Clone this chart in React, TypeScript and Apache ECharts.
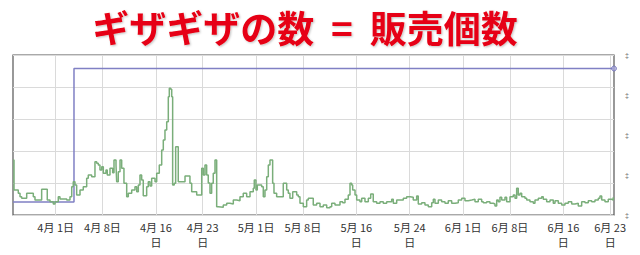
import React, { useEffect, useRef } from "react";
import * as echarts from "echarts";

const titleText = "ギザギザの数  =  販売個数";

const tickDays = [0, 7, 15, 22, 30, 37, 45, 53, 61, 68, 76, 83];
const tickLabels = [
  "4月 1日", "4月 8日", "4月 16\n日", "4月 23\n日", "5月 1日", "5月 8日",
  "5月 16\n日", "5月 24\n日", "6月 1日", "6月 8日", "6月 16\n日", "6月 23\n日",
];

const greenDays = [
  -6.35, -6.24, -5.6, -5.34, -5.09, -4.34, -3.35, -3.1, -2.1, -1.26, -0.85, -0.36, -0.1, 0.39, 0.64,
  1.65, 2.14, 2.4, 2.63, 2.89, 3.14, 3.64, 4.13, 4.64, 4.88, 5.39, 5.88, 6.14, 6.38, 6.63, 6.89, 7.13,
  7.53, 7.72, 8.13, 8.53, 8.73, 9.03, 9.13, 9.37, 9.63, 9.88, 10.22, 10.63, 10.87, 11.38, 11.87, 12.13,
  12.37, 12.62, 12.87, 13.11, 13.62, 13.86, 14.12, 14.37, 14.87, 15.12, 15.51, 15.87, 16.11, 16.36,
  16.62, 16.86, 17.01, 17.22, 17.37, 17.51, 17.75, 17.96, 18.35, 19.36, 20.1, 20.36, 21.11, 21.86,
  22.1, 22.35, 22.6, 22.84, 23.1, 23.35, 23.59, 23.85, 24.1, 24.34, 25.09, 25.6, 26.09, 26.59, 27.1,
  27.59, 28.08, 28.59, 29.09, 29.58, 29.73, 29.98, 30.18, 30.84, 31.08, 31.33, 31.59, 31.83, 32.08,
  32.48, 32.68, 33.08, 34.07, 34.58, 34.82, 35.07, 35.48, 36.08, 36.32, 36.57, 37.07, 37.57, 37.81,
  38.56, 39.07, 39.57, 40.06, 40.57, 41.06, 41.32, 41.81, 42.56, 42.96, 43.31, 43.8, 44.06, 44.31,
  44.46, 44.81, 45.06, 45.55, 45.81, 46.3, 46.8, 47.16, 47.54, 48.05, 48.55, 49.04, 49.55, 50.3,
  50.54, 51.05, 52.04, 52.54, 53.04, 53.53, 54.04, 54.28, 54.79, 55.28, 55.78, 56.29, 56.53, 56.78,
  57.28, 57.78, 58.28, 58.77, 59.28, 59.78, 60.27, 60.78, 61.27, 61.77, 62.28, 62.77, 63.26, 63.77,
  64.01, 64.52, 65.01, 65.51, 65.76, 66.02, 66.26, 66.51, 66.77, 67.26, 67.51, 68.01, 68.5, 68.76,
  69.01, 69.25, 69.51, 69.76, 70.25, 70.51, 71.0, 71.5, 71.75, 72.25, 72.75, 72.99, 73.5, 74.0,
  74.49, 74.75, 75.24, 75.75, 76.24, 76.74, 77.25, 77.74, 78.23, 78.74, 79.24, 79.73, 80.24, 80.73,
  81.23, 81.48, 81.74, 82.23, 82.72, 83.23, 83.47,
];
const greenValues = [
  55, 25, 21.7, 18.3, 16.7, 21.7, 18.3, 15, 25.7, 15, 13.3, 11, 13.3, 18.3, 16,
  15, 18.3, 28.3, 33.3, 30, 20, 25, 28.3, 36.7, 40, 38.3, 53.3, 51.7, 50, 45, 48.3, 41.7,
  45, 40, 46.7, 42.3, 55, 50, 33.3, 43.3, 55, 46.7, 31.7, 18.3, 21.7, 25, 28.3, 23.3,
  30, 40, 35, 19.3, 28.3, 33.3, 29, 36.7, 33.3, 41.7, 50, 65, 75, 85,
  93.3, 118.3, 126.7, 125.7, 118.3, 30, 31.7, 68.3, 33.3, 39, 31.7, 23.3, 20, 46.7,
  40, 50, 40, 32, 21.7, 31.7, 41.7, 55, 8.3, 7.7, 10, 11.7, 11, 15, 14.3,
  18.3, 21.7, 18.3, 23.3, 26.7, 35, 25, 30, 28.3, 18.3, 25, 38.3, 50, 55,
  31.7, 21.7, 18.3, 31.7, 25, 21.7, 16.7, 23.3, 20, 18.3, 11.7, 8.3, 15, 16.7,
  10, 11.7, 8.3, 10, 7.3, 8.3, 11.7, 10, 13.3, 12.3, 15.7, 20, 31.7, 30,
  25, 20, 15, 13.3, 16.7, 13.3, 16.7, 21, 13.3, 11.7, 13.3, 11.7, 13.3, 15.7,
  11.7, 15, 16.7, 18.3, 17.7, 15, 19, 11, 12.3, 10, 8.3, 12.3, 15.7, 11.7,
  15, 13.3, 11.7, 14.3, 11.7, 12.3, 15, 16.7, 14.3, 15, 15.7, 13.3, 15.7, 13.3,
  12.3, 13.3, 11.7, 11, 9, 15, 13.3, 17.7, 15, 17.7, 13.3, 18.3, 20, 16.7,
  26.7, 20, 21.7, 18.3, 16.7, 15, 13.3, 11.7, 15, 16.7, 18.3, 15.7, 13.3, 15,
  11.7, 14.3, 11.7, 10, 11.7, 13.3, 11, 11.7, 9, 13.3, 12.3, 14.3, 13.3, 15,
  16.7, 19, 15, 13.3, 15.7, 15, 17.7,
];

const blueDays = [-6.39, 2.74, 83.58];
const blueValues = [13, 146.5, 146.5];

const xMin = -6.39;
const xMax = 83.58;

export default function App() {
  const ref = useRef<HTMLDivElement>(null);
  useEffect(() => {
    if (!ref.current) return;
    const chart = echarts.init(ref.current, null, { renderer: "svg" });
    const green = greenDays.map((d, i) => [d, greenValues[i]]);
    const blue = blueDays.map((d, i) => [d, blueValues[i]]);
    const last = blue[blue.length - 1];
    chart.setOption({
      animation: false,
      backgroundColor: "#ffffff",
      graphic: [
        {
          type: "text",
          x: 305,
          y: 27,
          style: {
            text: titleText,
            align: "center",
            verticalAlign: "middle",
            fill: "#e60012",
            font: 'bold 37px "Noto Sans CJK JP"',
            textShadowColor: "rgba(0,0,0,0.25)",
            textShadowBlur: 2,
            textShadowOffsetX: 1,
            textShadowOffsetY: 1,
          },
        },
      ],
      grid: {
        left: 13,
        right: 26,
        top: 55,
        bottom: 40,
        show: true,
        borderColor: "#555",
        borderWidth: 1.2,
      },
      xAxis: {
        type: "value",
        min: xMin,
        max: xMax,
        axisLine: { show: false },
        axisTick: { show: false, customValues: tickDays },
        splitLine: { show: true, lineStyle: { color: "#dadada", width: 1 } },
        axisLabel: {
          customValues: tickDays,
          formatter: (v: number) => {
            const i = tickDays.indexOf(Math.round(v));
            return i >= 0 ? tickLabels[i] : "";
          },
          fontFamily: '"Noto Sans CJK JP"',
          fontSize: 11,
          lineHeight: 15,
          color: "#333",
          margin: 4,
          verticalAlign: "top",
        },
      },
      yAxis: [
        {
          type: "value",
          min: 0,
          max: 160,
          interval: 32,
          axisLine: { show: false },
          axisTick: { show: false },
          axisLabel: { show: false },
          splitLine: { show: true, lineStyle: { color: "#dadada", width: 1 } },
        },
        {
          type: "value",
          position: "right",
          min: 0,
          max: 160,
          interval: 40,
          axisLine: { show: false },
          axisTick: { show: false },
          splitLine: { show: false },
          axisLabel: {
            formatter: () => "‡",
            fontSize: 7,
            lineHeight: 7,
            verticalAlign: "middle",
            color: "#666",
            margin: 11,
          },
        },
      ],
      series: [
        {
          type: "line",
          data: blue,
          step: "end",
          symbol: "none",
          lineStyle: { color: "#8080c4", width: 1.5 },
          z: 2,
        },
        {
          type: "scatter",
          data: [last],
          symbol: "circle",
          symbolSize: 5,
          itemStyle: { color: "#a8a8d8", borderColor: "#7070b8", borderWidth: 1 },
          z: 4,
        },
        {
          type: "line",
          data: green,
          step: "end",
          symbol: "none",
          lineStyle: { color: "#7aae7a", width: 1.5 },
          z: 3,
        },
      ],
    });
    return () => chart.dispose();
  }, []);
  return (
    <div
      ref={ref}
      style={{ position: "absolute", left: 0, top: 0, width: 640, height: 255 }}
    />
  );
}
